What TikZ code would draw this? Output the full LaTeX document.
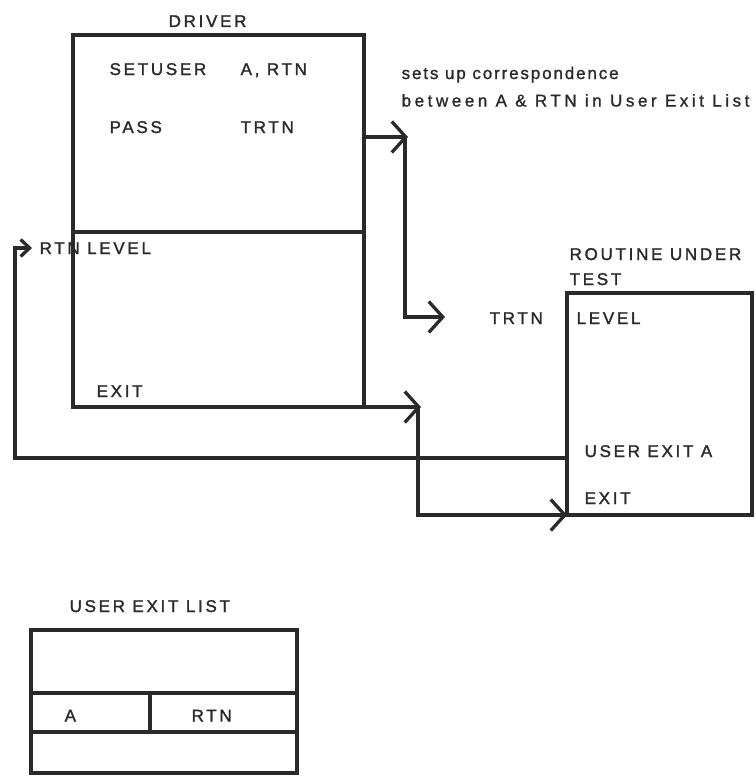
\documentclass[tikz,border=0pt]{standalone}
\usepackage{fontspec}
\setmainfont{Liberation Sans}[LetterSpace=16,FakeBold=1.6]
\newfontfamily\noteonefont{Liberation Sans}[LetterSpace=11,FakeBold=1.3]
\newfontfamily\notetwofont{Liberation Sans}[LetterSpace=21,FakeBold=1.3]
\usetikzlibrary{arrows.meta}
\definecolor{ink}{HTML}{2A2A2A}
\begin{document}
\begin{tikzpicture}[x=1pt,y=-1pt,
  line width=3.3pt, color=ink,
  box/.style={draw=ink, line width=3.3pt, inner sep=0pt, outer sep=0pt, anchor=north west},
  lbl/.style={anchor=base west, inner sep=0pt, text=ink, font=\fontsize{17}{19}\selectfont},
  noteone/.style={anchor=base west, inner sep=0pt, text=ink, font=\noteonefont\fontsize{17}{19}\selectfont},
  notetwo/.style={anchor=base west, inner sep=0pt, text=ink, font=\notetwofont\fontsize{17}{19}\selectfont},
  arr/.style={-{Straight Barb[length=14pt,width=31pt,line width=3.3pt]}},
  sarr/.style={-{Straight Barb[length=9pt,width=17pt,line width=3.3pt]}}
]
\useasboundingbox (0,0) rectangle (755,776);

% boxes
\node[box, minimum width=291pt, minimum height=372pt] (driver) at (73,35) {};
\coordinate (dl) at (73,232);
\coordinate (dr) at (364,232);
\draw (dl) -- (dr);

\node[box, minimum width=185pt, minimum height=222pt] (rut) at (567,293) {};

\node[box, minimum width=266pt, minimum height=143pt] (uel) at (31,630) {};
\coordinate (l1a) at (31,693);
\coordinate (l1b) at (297,693);
\coordinate (l2a) at (31,732);
\coordinate (l2b) at (297,732);
\coordinate (lva) at (150,693);
\coordinate (lvb) at (150,732);
\draw (l1a) -- (l1b);
\draw (l2a) -- (l2b);
\draw (lva) -- (lvb);

% texts
\node[lbl] (tdriver) at (167,27) {DRIVER};
\node[lbl] (tsetuser) at (108,75) {SETUSER};
\node[lbl] (targs) at (239,75) {A, RTN};
\node[lbl] (tpass) at (108,133) {PASS};
\node[lbl] (ttrtn1) at (239,133) {TRTN};
\node[lbl] (trtnlevel) at (38,254) {RTN LEVEL};
\node[lbl] (texit1) at (95,397) {EXIT};
\node[noteone] (n1) at (400,79) {sets up correspondence};
\node[notetwo] (n2) at (400,106.5) {between A \& RTN in User Exit List};
\node[lbl] (trut1) at (568,260) {ROUTINE UNDER};
\node[lbl] (trut2) at (568,285) {TEST};
\node[lbl] (ttrtn2) at (488,324) {TRTN};
\node[lbl] (tlevel) at (575,324) {LEVEL};
\node[lbl] (tuea) at (583,457) {USER EXIT A};
\node[lbl] (texit2) at (583,504) {EXIT};
\node[lbl] (tuel) at (68,612) {USER EXIT LIST};
\node[lbl] (ta) at (63,721.5) {A};
\node[lbl] (trtn) at (190,721.5) {RTN};

% connectors
\coordinate (a1) at (408,137);
\coordinate (v1) at (405,137);
\coordinate (a2) at (445,317);
\draw[arr] (driver.east |- a1) -- (a1);
\draw[arr] (v1) |- (a2);

\coordinate (e1) at (421,407);
\coordinate (v2) at (418,407);
\draw[arr] (driver.south east) -- (e1);
\draw[arr] (v2) |- (rut.south west);

\coordinate (u1) at (567,458);
\coordinate (c2) at (15,248);
\coordinate (r1) at (32,248);
\draw[sarr] (u1) -| (c2) -- (r1);
\end{tikzpicture}
\end{document}
